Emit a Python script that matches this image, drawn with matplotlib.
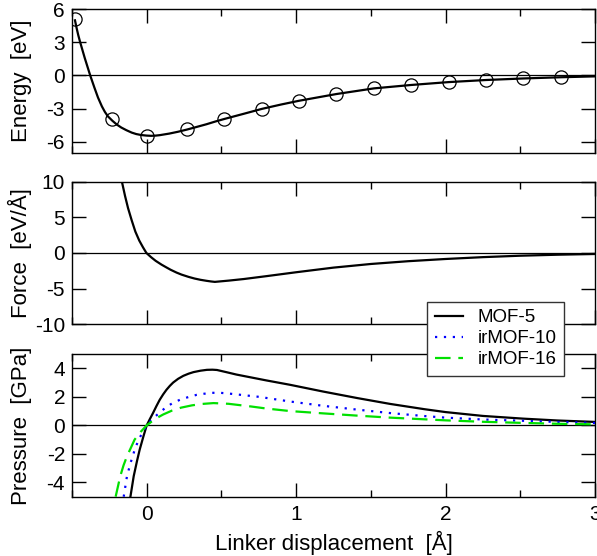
import matplotlib
matplotlib.use("Agg")
import matplotlib.pyplot as plt
from matplotlib.ticker import MultipleLocator

plt.rcParams['font.family'] = ['Liberation Sans', 'DejaVu Sans']
plt.rcParams['axes.unicode_minus'] = False

# ---- Energy panel data ----
energy_pts_x = [-0.48, -0.23, 0.0, 0.27, 0.52, 0.77, 1.02, 1.27, 1.52, 1.77, 2.02, 2.27, 2.52, 2.77]
energy_pts_y = [5.1, -3.94, -5.45, -4.87, -3.94, -3.03, -2.27, -1.66, -1.15, -0.88, -0.6, -0.39, -0.27, -0.15]

energy_x = [-0.48, -0.47, -0.458, -0.445, -0.43, -0.415, -0.40, -0.378, -0.35, -0.326, -0.30, -0.28, -0.26, -0.23,
            -0.20, -0.17, -0.136, -0.10, -0.07, -0.036, 0.0, 0.03, 0.06, 0.087, 0.15, 0.21, 0.27,
            0.33, 0.40, 0.46, 0.52, 0.65, 0.77, 0.90, 1.02, 1.27, 1.52, 1.77, 2.02, 2.27, 2.52, 2.77, 3.0]
energy_y = [5.0, 4.35, 3.65, 3.0, 2.3, 1.6, 0.95, 0.0, -1.1, -2.0, -2.8, -3.3, -3.7, -4.1,
            -4.45, -4.72, -4.96, -5.18, -5.31, -5.40, -5.45, -5.47, -5.45, -5.41, -5.27, -5.10, -4.90,
            -4.68, -4.42, -4.17, -3.94, -3.47, -3.03, -2.63, -2.29, -1.68, -1.17, -0.86, -0.60, -0.41, -0.27, -0.16, -0.08]

# ---- Force panel data ----
force_x = [-0.166, -0.145, -0.125, -0.10, -0.076, -0.05, -0.025, -0.002, 0.03, 0.06, 0.099, 0.13, 0.16,
           0.20, 0.233, 0.28, 0.32, 0.36, 0.40, 0.43, 0.456, 0.55, 0.65, 0.80, 1.0, 1.25, 1.5,
           1.75, 2.0, 2.25, 2.5, 2.75, 3.0]
force_y = [10.0, 8.0, 6.3, 4.55, 3.0, 1.75, 0.8, 0.0, -0.6, -1.1, -1.63, -2.0, -2.35,
           -2.75, -3.03, -3.35, -3.58, -3.76, -3.9, -3.99, -4.05, -3.87, -3.65, -3.25, -2.7, -2.05, -1.54,
           -1.15, -0.84, -0.58, -0.38, -0.24, -0.14]

# ---- Pressure panel data ----
p_mof5_x = [-0.109, -0.087, -0.065, -0.047, -0.02, 0.0, 0.02, 0.042, 0.065, 0.087, 0.11, 0.132, 0.155,
            0.177, 0.21, 0.245, 0.28, 0.313, 0.36, 0.403, 0.44, 0.47, 0.536, 0.6, 0.8, 0.96, 1.18, 1.41,
            1.63, 1.86, 2.0, 2.25, 2.52, 2.75, 3.0]
p_mof5_y = [-5.0, -3.56, -2.5, -1.7, -0.7, 0.0, 0.42, 0.86, 1.35, 1.79, 2.17, 2.49, 2.77,
            3.0, 3.26, 3.47, 3.62, 3.73, 3.83, 3.89, 3.9, 3.88, 3.72, 3.56, 3.15, 2.84, 2.37, 1.91,
            1.5, 1.13, 0.93, 0.66, 0.47, 0.34, 0.24]

p_irmof10_x = [-0.154, -0.132, -0.108, -0.08, -0.054, -0.025, 0.0, 0.038, 0.083, 0.128, 0.173, 0.222,
               0.278, 0.335, 0.38, 0.436, 0.492, 0.548, 0.75, 0.96, 1.18, 1.41, 1.63, 1.86, 2.0, 2.25,
               2.52, 2.75, 3.0]
p_irmof10_y = [-5.0, -3.56, -2.63, -1.7, -1.0, -0.45, 0.0, 0.45, 0.86, 1.26, 1.56, 1.79,
               1.98, 2.14, 2.21, 2.28, 2.28, 2.23, 2.0, 1.67, 1.37, 1.1, 0.86, 0.65, 0.54, 0.41,
               0.32, 0.24, 0.17]

p_irmof16_x = [-0.208, -0.177, -0.155, -0.132, -0.105, -0.081, -0.04, 0.0, 0.056, 0.11, 0.168, 0.23,
               0.302, 0.37, 0.447, 0.548, 0.7, 0.8, 0.96, 1.18, 1.41, 1.63, 2.0, 2.25, 2.52, 2.75, 3.0]
p_irmof16_y = [-5.0, -3.56, -2.8, -2.16, -1.55, -1.0, -0.45, 0.0, 0.45, 0.76, 1.03, 1.24,
               1.40, 1.5, 1.56, 1.51, 1.32, 1.18, 1.0, 0.84, 0.68, 0.54, 0.35, 0.25, 0.17, 0.11, 0.07]

legend_labels = ['MOF-5', 'irMOF-10', 'irMOF-16']
x_label = 'Linker displacement  [Å]'
y_labels = ['Energy  [eV]', 'Force  [eV/Å]', 'Pressure  [GPa]']

W, H = 597, 556
fig = plt.figure(figsize=(W / 100, H / 100), dpi=100)

left = 72 / W
width = (595 - 72) / W
panels = [(9.3, 152.7), (181.7, 324.3), (354.0, 496.7)]
axes = []
for top, bot in panels:
    ax = fig.add_axes([left, 1 - bot / H, width, (bot - top) / H])
    axes.append(ax)

tick_fs = 15
label_fs = 16

for i, ax in enumerate(axes):
    ax.set_xlim(-0.5, 3.0)
    ax.xaxis.set_major_locator(MultipleLocator(1))
    ax.xaxis.set_minor_locator(MultipleLocator(0.5))
    ax.tick_params(axis='both', which='major', direction='in', length=10, width=1.0,
                   top=True, right=True, labelsize=tick_fs)
    ax.tick_params(axis='x', which='minor', direction='in', length=5, width=1.0, top=True, bottom=True)
    ax.tick_params(axis='x', which='major', pad=6)
    ax.tick_params(axis='y', which='major', pad=5)
    ax.axhline(0, color='black', lw=0.9, zorder=1)
    for s in ax.spines.values():
        s.set_linewidth(1.0)
    if i < 2:
        ax.tick_params(axis='x', labelbottom=False)
    ax.set_ylabel(y_labels[i], fontsize=label_fs)
    ax.yaxis.set_label_coords(-0.077, 0.5)

ax1, ax2, ax3 = axes
ax1.set_ylim(-7, 6)
ax1.set_yticks([-6, -3, 0, 3, 6])
ax1.plot(energy_x, energy_y, color='black', lw=1.6, zorder=3)
ax1.plot(energy_pts_x, energy_pts_y, linestyle='none', marker='o', markersize=9.5,
         markerfacecolor='none', markeredgecolor='black', markeredgewidth=0.9, zorder=4)

ax2.set_ylim(-10, 10)
ax2.set_yticks([-10, -5, 0, 5, 10])
ax2.plot(force_x, force_y, color='black', lw=1.6, zorder=3)

ax3.set_ylim(-5, 5)
ax3.set_yticks([-4, -2, 0, 2, 4])
l1, = ax3.plot(p_mof5_x, p_mof5_y, color='black', lw=1.6, zorder=3, label=legend_labels[0])
l2, = ax3.plot(p_irmof10_x, p_irmof10_y, color='#0000ff', lw=1.6, linestyle=(0, (1, 3)),
               zorder=3, label=legend_labels[1])
l3, = ax3.plot(p_irmof16_x, p_irmof16_y, color='#00e000', lw=1.6, linestyle=(0, (7, 3.5)),
               zorder=3, label=legend_labels[2])
ax3.set_xticks([0, 1, 2, 3])
ax3.set_xlabel(x_label, fontsize=label_fs, labelpad=5)

leg = fig.legend(handles=[l1, l2, l3], loc='upper left',
                 bbox_to_anchor=(427.3 / W, 1 - 301.7 / H), bbox_transform=fig.transFigure,
                 fontsize=13.5, frameon=True, fancybox=False, framealpha=1,
                 edgecolor='#333333', borderpad=0.4, handlelength=1.5, handletextpad=0.8,
                 labelspacing=0.2, borderaxespad=0)
leg.get_frame().set_linewidth(1.0)

fig.savefig('out.png', dpi=100)
